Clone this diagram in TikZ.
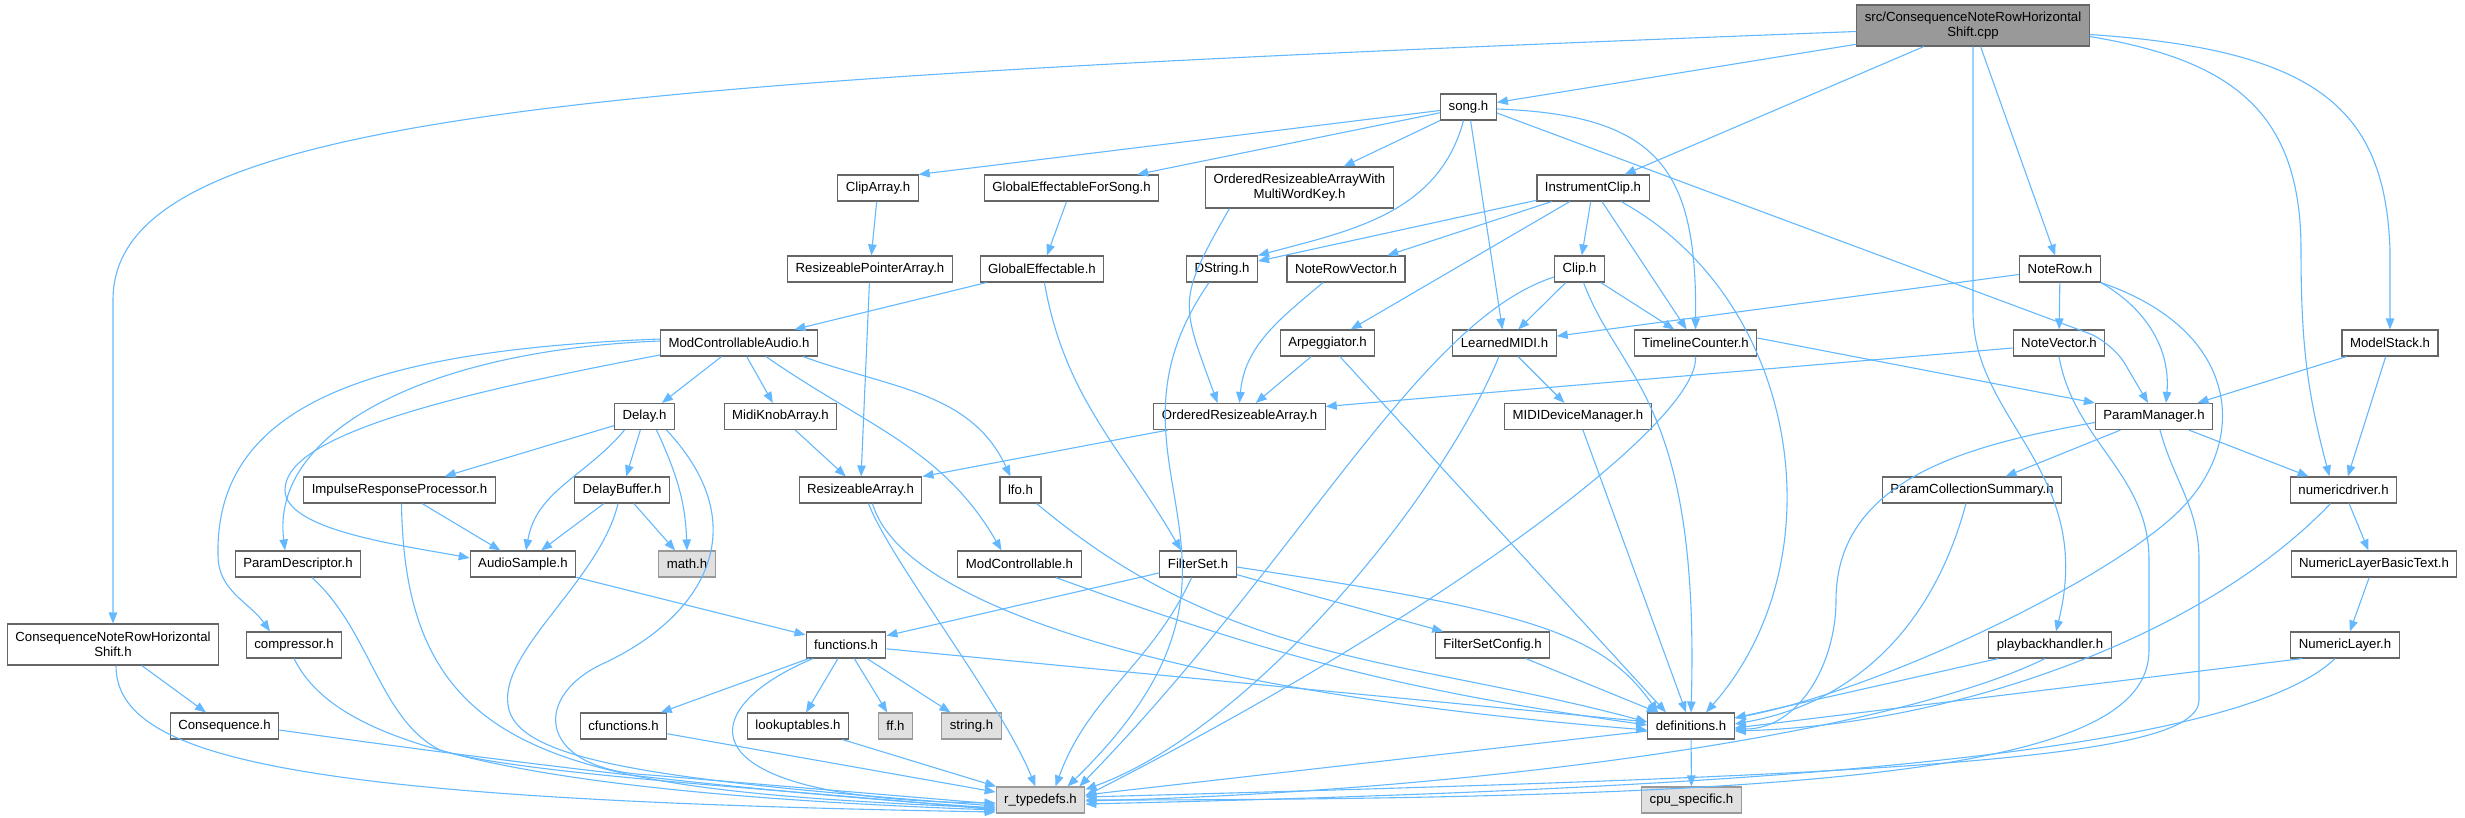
\documentclass[tikz,border=0pt]{standalone}
\usepackage{fontspec}
\setmainfont{Liberation Sans}
\usetikzlibrary{arrows.meta}
\definecolor{edgeblue}{HTML}{63B8FF}
\definecolor{boxline}{HTML}{666666}
\definecolor{sysline}{HTML}{999999}
\definecolor{sysfill}{HTML}{E0E0E0}
\definecolor{srcfill}{HTML}{999999}
\tikzset{
  hdr/.style={draw=boxline, fill=white, line width=1.1pt, minimum height=26pt,
    inner xsep=8pt, inner ysep=2pt, align=center,
    font=\fontsize{13.2pt}{15pt}\selectfont},
  twoline/.style={minimum height=41pt},
  syshdr/.style={hdr, draw=sysline, fill=sysfill},
  srcnode/.style={hdr, fill=srcfill},
  dep/.style={draw=edgeblue, line width=1.1pt, -{Triangle[length=11pt,width=8.5pt]}},
}
\begin{document}
\begin{tikzpicture}[x=1pt,y=1pt]
\useasboundingbox (0,0) rectangle (2465,-818);

% headers, rank by rank
\node[srcnode, twoline] (cpp) at (1973,-25.5) {src/ConsequenceNoteRowHorizontal\\Shift.cpp};
\node[hdr] (song) at (1468.5,-107) {song.h};
\node[hdr] (cliparr) at (878,-188) {ClipArray.h};
\node[hdr] (gefs) at (1071.5,-188) {GlobalEffectableForSong.h};
\node[hdr, twoline] (oramwk) at (1299.5,-187.5) {OrderedResizeableArrayWith\\MultiWordKey.h};
\node[hdr] (iclip) at (1593,-188) {InstrumentClip.h};
\node[hdr] (rpa) at (870,-269) {ResizeablePointerArray.h};
\node[hdr] (geff) at (1042,-269) {GlobalEffectable.h};
\node[hdr] (dstring) at (1222,-269) {DString.h};
\node[hdr] (nrvec) at (1346,-269) {NoteRowVector.h};
\node[hdr] (clip) at (1579.5,-269) {Clip.h};
\node[hdr] (noterow) at (2060,-269) {NoteRow.h};
\node[hdr] (mca) at (739,-343) {ModControllableAudio.h};
\node[hdr] (arp) at (1327.5,-343) {Arpeggiator.h};
\node[hdr] (lmidi) at (1504.5,-343) {LearnedMIDI.h};
\node[hdr] (tlc) at (1695.5,-343) {TimelineCounter.h};
\node[hdr] (nvec) at (2059,-343) {NoteVector.h};
\node[hdr] (mstack) at (2390,-343) {ModelStack.h};
\node[hdr] (delay) at (644.5,-416.5) {Delay.h};
\node[hdr] (mka) at (780.5,-416.5) {MidiKnobArray.h};
\node[hdr] (ora) at (1239.5,-416.5) {OrderedResizeableArray.h};
\node[hdr] (mididm) at (1578,-416.5) {MIDIDeviceManager.h};
\node[hdr] (pman) at (2154,-416.5) {ParamManager.h};
\node[hdr] (irp) at (399.5,-490) {ImpulseResponseProcessor.h};
\node[hdr] (dbuf) at (622,-490) {DelayBuffer.h};
\node[hdr] (rarr) at (860.5,-490) {ResizeableArray.h};
\node[hdr] (lfo) at (1020.5,-490) {lfo.h};
\node[hdr] (pcs) at (1972,-490) {ParamCollectionSummary.h};
\node[hdr] (ndrv) at (2343.5,-490) {numericdriver.h};
\node[hdr] (pdesc) at (298,-564) {ParamDescriptor.h};
\node[hdr] (asample) at (523,-564) {AudioSample.h};
\node[syshdr] (math) at (687,-564) {math.h};
\node[hdr] (modc) at (1019.5,-564) {ModControllable.h};
\node[hdr] (fset) at (1198,-564) {FilterSet.h};
\node[hdr] (nlbt) at (2374,-564) {NumericLayerBasicText.h};
\node[hdr, twoline] (cnrh) at (113,-644.5) {ConsequenceNoteRowHorizontal\\Shift.h};
\node[hdr] (comp) at (294,-645) {compressor.h};
\node[hdr] (func) at (846,-645) {functions.h};
\node[hdr] (fsc) at (1492.5,-645) {FilterSetConfig.h};
\node[hdr] (pbh) at (2050,-645) {playbackhandler.h};
\node[hdr] (nlay) at (2345,-645) {NumericLayer.h};
\node[hdr] (conseq) at (224.5,-726) {Consequence.h};
\node[hdr] (cfunc) at (623.5,-726) {cfunctions.h};
\node[hdr] (lut) at (798,-726) {lookuptables.h};
\node[syshdr] (ffh) at (895.5,-726) {ff.h};
\node[syshdr] (strh) at (971.5,-726) {string.h};
\node[hdr] (defs) at (1691,-726) {definitions.h};
\node[syshdr] (rtd) at (1040.5,-800) {r\_typedefs.h};
\node[syshdr] (cpu) at (1691.5,-800) {cpu\_specific.h};

% includes of the source file
\draw[dep] ([yshift=-6pt]cpp.west) .. controls (600,-80) and (113,-110) .. (113,-300) -- (cnrh.north);
\draw[dep] (cpp) -- (song);
\draw[dep] (cpp) -- (iclip);
\draw[dep] (cpp) -- (noterow);
\draw[dep] (cpp.south) -- ++(0,-265) .. controls +(0,-110) and +(40,160) .. ([xshift=6pt]pbh.north);
\draw[dep] ([yshift=-11pt]cpp.east) .. controls (2230,-60) and (2301,-110) .. (2301,-250) to[out=-90,in=105] ([xshift=-14pt]ndrv.north);
\draw[dep] ([yshift=-9pt]cpp.east) .. controls (2320,-50) and (2385,-110) .. (2390,-250) -- (mstack.north);

% song.h
\draw[dep] (song) -- (cliparr.north east);
\draw[dep] (song) -- ([xshift=-22pt]gefs.north east);
\draw[dep] (song) -- (oramwk);
\draw[dep] ([xshift=-5pt]song.south) to[out=-105,in=15] (dstring.north east);
\draw[dep] (song) -- (lmidi);
\draw[dep] ([yshift=-2pt]song.east) .. controls (1660,-115) and (1697,-170) .. (tlc.north);
\draw[dep, rounded corners=25pt] ([yshift=-6pt]song.east) -- (2112,-342) -- ([xshift=-6pt]pman.north);

\draw[dep] (cliparr) -- (rpa);
\draw[dep] (gefs) -- (geff);
\draw[dep] ([xshift=-70pt]oramwk.south) to[out=-120,in=110,looseness=1.4] ([xshift=-22pt]ora.north);
\draw[dep] (rpa) -- (rarr);
\draw[dep] (geff) -- (mca);
\draw[dep] (geff) to[out=-80,in=120] ([xshift=-17pt]fset.north);
\draw[dep] ([xshift=-13pt]dstring.south) .. controls (1080,-470) and (1300,-560) .. ([xshift=27pt]rtd.north);

% InstrumentClip.h and Clip.h
\draw[dep] (iclip) -- (dstring);
\draw[dep] (iclip) -- (nrvec);
\draw[dep] (iclip) -- (arp);
\draw[dep] (iclip) -- (clip);
\draw[dep] (iclip) -- (tlc);
\draw[dep] ([xshift=28pt]iclip.south) .. controls (1800,-300) and (1840,-560) .. ([xshift=15pt]defs.north);
\draw[dep] (clip) -- (lmidi);
\draw[dep] (clip) -- (tlc);
\draw[dep] ([yshift=-8pt]clip.west) .. controls (1420,-320) and (1300,-560) .. ([xshift=-6pt]rtd.north east);
\draw[dep] ([xshift=4pt]clip.south) .. controls (1620,-380) and (1700,-400) .. (defs.north);

\draw[dep] ([xshift=-23pt]nrvec.south) to[out=-140,in=85] (ora.north);
\draw[dep] (arp) -- (ora);
\draw[dep] (arp) -- ([xshift=-25pt]defs.north);
\draw[dep] (lmidi) -- (mididm);
\draw[dep] (lmidi) .. controls (1440,-500) and (1250,-730) .. ([yshift=-3pt]rtd.north east);
\draw[dep] ([yshift=5pt]tlc.east) -- (pman.north west);
\draw[dep] (tlc.south) .. controls (1700,-420) and (1450,-610) .. ([yshift=4pt]rtd.east);
\draw[dep] (mididm) -- (defs);

% NoteRow.h side
\draw[dep] (noterow) -- (lmidi);
\draw[dep] (noterow) -- (nvec);
\draw[dep] (noterow.south east) to[out=-30,in=85] ([xshift=12pt]pman.north);
\draw[dep] (noterow.south east) .. controls (2240,-330) and (2250,-440) .. (2180,-510) .. controls (2110,-580) and (1880,-690) .. ([yshift=8pt]defs.east);
\draw[dep] ([yshift=-5pt]nvec.west) -- ([yshift=10pt]ora.east);
\draw[dep] (nvec.south) to[out=-80,in=90] (2149,-560) -- (2149,-650) .. controls (2149,-760) and (1900,-800) .. (rtd.east);
\draw[dep] (mstack) -- (pman);
\draw[dep] (mstack) -- (ndrv);
\draw[dep] ([yshift=-6pt]pman.west) to[out=190,in=90] (1836,-600) to[out=-90,in=0] ([yshift=-3pt]defs.east);
\draw[dep] (pman) -- (pcs);
\draw[dep] (pman) -- (ndrv);
\draw[dep] ([xshift=6pt]pman.south) to[out=-75,in=90] (2199,-560) -- (2199,-700) .. controls (2199,-760) and (1900,-775) .. ([yshift=3pt]rtd.east);
\draw[dep] ([xshift=-6pt]pcs.south) to[out=-105,in=10] ([yshift=2pt]defs.east);
\draw[dep] (ndrv) .. controls (2200,-640) and (1950,-725) .. ([yshift=-5pt]defs.east);
\draw[dep] (ndrv) -- (nlbt);
\draw[dep] (nlbt) -- (nlay);
\draw[dep] ([xshift=12pt]nlay.south west) -- ([yshift=-2pt]defs.east);
\draw[dep] ([xshift=-10pt]nlay.south) .. controls (2230,-760) and (1700,-790) .. ([yshift=-4pt]rtd.east);
\draw[dep] ([xshift=10pt]pbh.south west) -- ([yshift=8pt]defs.east);
\draw[dep] ([xshift=-5pt]pbh.south) .. controls (1900,-730) and (1500,-790) .. ([yshift=-1pt]rtd.east);
\draw[dep] (defs) -- (rtd);
\draw[dep] (defs) -- (cpu);

% ModControllableAudio.h side
\draw[dep] (mca) -- (delay);
\draw[dep] (mca) -- (mka);
\draw[dep] ([xshift=27pt]mca.south) to[out=-35,in=120] ([xshift=-18pt]modc.north);
\draw[dep] ([xshift=-15pt]mca.south east) to[out=-20,in=115] ([xshift=-10pt]lfo.north);
\draw[dep] ([yshift=4pt]mca.west) .. controls (380,-350) and (215,-400) .. (218,-555) to[out=-90,in=125] ([xshift=-24pt]comp.north);
\draw[dep] ([yshift=2pt]mca.west) .. controls (430,-350) and (270,-430) .. ([xshift=-13pt]pdesc.north);
\draw[dep] ([yshift=-12pt]mca.west) .. controls (420,-400) and (285,-440) .. (285,-490) .. controls (285,-530) and (400,-545) .. ([yshift=6pt]asample.west);
\draw[dep] (delay) -- (irp);
\draw[dep] ([xshift=-20pt]delay.south) to[out=-130,in=80] ([xshift=3pt]asample.north);
\draw[dep] (delay) -- (dbuf);
\draw[dep] ([xshift=12pt]delay.south) to[out=-65,in=92] (math.north);
\draw[dep] ([xshift=22pt]delay.south) .. controls (760,-530) and (700,-620) .. (600,-665) .. controls (530,-700) and (540,-770) .. (650,-775) -- ([yshift=-4pt]rtd.west);
\draw[dep] (dbuf) -- (asample);
\draw[dep] (dbuf) -- (math);
\draw[dep] ([xshift=-4pt]dbuf.south) .. controls (600,-580) and (500,-650) .. (508,-705) .. controls (515,-760) and (650,-780) .. ([yshift=-6pt]rtd.west);
\draw[dep] (irp) -- (asample);
\draw[dep] ([xshift=2pt]irp.south) .. controls (405,-760) and (560,-790) .. ([yshift=-8pt]rtd.west);
\draw[dep] (asample) -- (func);
\draw[dep] ([xshift=14pt]pdesc.south) .. controls (370,-630) and (380,-720) .. (440,-750) .. controls (520,-775) and (800,-790) .. ([yshift=-10pt]rtd.west);
\draw[dep] (comp.south) .. controls (330,-730) and (450,-790) .. ([yshift=-10pt]rtd.west);
\draw[dep] (cnrh) -- (conseq);
\draw[dep] ([xshift=3pt]cnrh.south) .. controls (116,-760) and (300,-800) .. ([yshift=-12pt]rtd.west);
\draw[dep] ([yshift=-4pt]conseq.east) .. controls (600,-775) and (800,-795) .. ([yshift=-8pt]rtd.west);

% functions.h and the arrays
\draw[dep] (cfunc) -- (rtd);
\draw[dep] (lut) -- (rtd);
\draw[dep] (func) -- (cfunc);
\draw[dep] (func) -- (lut);
\draw[dep] (func) -- (ffh);
\draw[dep] (func) -- (strh);
\draw[dep] ([xshift=-33pt]func.south) .. controls (690,-710) and (680,-800) .. ([yshift=-3pt]rtd.west);
\draw[dep] (func) -- (defs);
\draw[dep] (mka) -- (rarr);
\draw[dep] (ora) -- (rarr.north east);
\draw[dep] ([xshift=8pt]rarr.south) .. controls (890,-560) and (1000,-700) .. ([xshift=-5pt]rtd.north);
\draw[dep] ([xshift=12pt]rarr.south) .. controls (900,-600) and (1150,-690) .. ([yshift=-4pt]defs.west);
\draw[dep] (lfo) to[out=-40,in=165] ([yshift=4pt]defs.west);
\draw[dep] (modc) to[bend right=6] ([yshift=1pt]defs.west);
\draw[dep] (fset) -- (func);
\draw[dep] (fset) to[out=-115,in=70] ([xshift=15pt]rtd.north);
\draw[dep] (fset) -- (fsc);
\draw[dep] ([yshift=-3pt]fset.east) .. controls (1520,-610) and (1600,-630) .. ([xshift=-33pt]defs.north);
\draw[dep] (fsc) -- (defs);
\end{tikzpicture}
\end{document}
